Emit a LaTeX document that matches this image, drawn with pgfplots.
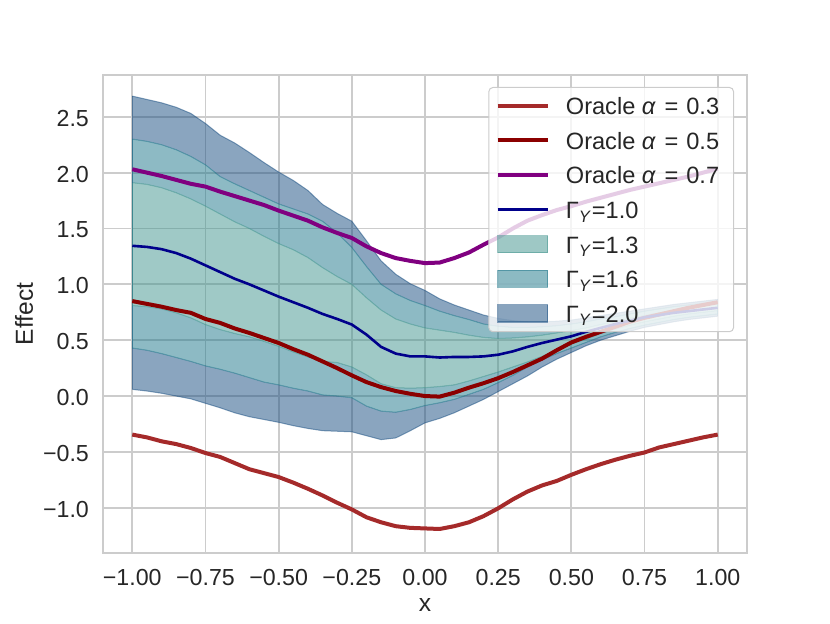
\documentclass[border=0pt]{standalone}
\usepackage{fontspec}
\setmainfont{Liberation Sans}
\usepackage{pgfplots}
\pgfplotsset{compat=1.18}
\usepackage{pgfplotstable}
\usepgfplotslibrary{fillbetween}
\definecolor{gridc}{HTML}{CCCCCC}
\definecolor{cbrown}{HTML}{A52A2A}
\definecolor{cdred}{HTML}{8B0000}
\definecolor{cpurple}{HTML}{800080}
\definecolor{cdblue}{HTML}{00008B}
\definecolor{c13}{HTML}{3F938D}
\definecolor{c16}{HTML}{1B7589}
\definecolor{c20}{HTML}{154B7F}
\definecolor{txt}{HTML}{262626}

\pgfplotstableread{
x      o3      o5     o7     g10    u13   l13    u16   l16    u20   l20
-1.00 -0.345 0.850 2.030 1.345 1.910 0.810 2.300 0.430 2.685 0.060
-0.95 -0.370 0.825 2.000 1.335 1.895 0.800 2.280 0.410 2.655 0.045
-0.90 -0.405 0.800 1.970 1.315 1.865 0.780 2.250 0.380 2.625 0.025
-0.85 -0.430 0.770 1.935 1.280 1.820 0.745 2.205 0.345 2.585 0.000
-0.80 -0.465 0.745 1.900 1.230 1.765 0.700 2.145 0.310 2.530 -0.025
-0.75 -0.510 0.690 1.875 1.170 1.700 0.640 2.070 0.270 2.440 -0.065
-0.70 -0.545 0.655 1.830 1.110 1.630 0.595 1.965 0.240 2.335 -0.105
-0.65 -0.600 0.605 1.790 1.050 1.560 0.560 1.900 0.205 2.265 -0.150
-0.60 -0.655 0.565 1.750 1.000 1.500 0.530 1.840 0.165 2.180 -0.185
-0.55 -0.690 0.520 1.710 0.945 1.430 0.490 1.780 0.125 2.090 -0.210
-0.50 -0.725 0.475 1.660 0.890 1.365 0.445 1.720 0.100 2.005 -0.235
-0.45 -0.775 0.420 1.615 0.840 1.310 0.395 1.675 0.070 1.930 -0.265
-0.40 -0.830 0.370 1.570 0.790 1.240 0.350 1.630 0.045 1.840 -0.290
-0.35 -0.890 0.310 1.510 0.735 1.150 0.310 1.565 0.010 1.715 -0.310
-0.30 -0.955 0.250 1.460 0.690 1.070 0.300 1.460 0.000 1.635 -0.315
-0.25 -1.015 0.185 1.415 0.640 1.000 0.260 1.330 -0.015 1.565 -0.320
-0.20 -1.085 0.125 1.340 0.550 0.880 0.190 1.160 -0.090 1.390 -0.355
-0.15 -1.130 0.080 1.280 0.440 0.770 0.110 1.000 -0.135 1.210 -0.390
-0.10 -1.165 0.045 1.235 0.380 0.690 0.075 0.915 -0.145 1.090 -0.375
-0.05 -1.180 0.020 1.210 0.355 0.645 0.070 0.855 -0.120 1.005 -0.310
0.00 -1.185 0.000 1.190 0.355 0.610 0.075 0.810 -0.085 0.945 -0.240
0.05 -1.190 -0.005 1.195 0.345 0.590 0.085 0.760 -0.060 0.870 -0.200
0.10 -1.165 0.030 1.235 0.350 0.570 0.100 0.720 -0.030 0.815 -0.150
0.15 -1.130 0.075 1.285 0.350 0.545 0.135 0.685 0.015 0.770 -0.090
0.20 -1.075 0.115 1.355 0.355 0.525 0.175 0.645 0.060 0.725 -0.030
0.25 -1.005 0.160 1.420 0.370 0.515 0.215 0.625 0.120 0.695 0.040
0.30 -0.925 0.215 1.500 0.400 0.520 0.260 0.615 0.185 0.675 0.110
0.35 -0.855 0.275 1.570 0.440 0.530 0.305 0.615 0.260 0.665 0.180
0.40 -0.800 0.335 1.620 0.475 0.545 0.355 0.620 0.325 0.665 0.260
0.45 -0.760 0.410 1.665 0.505 0.565 0.410 0.630 0.380 0.670 0.330
0.50 -0.705 0.480 1.700 0.535 0.585 0.465 0.645 0.430 0.680 0.390
0.55 -0.655 0.530 1.740 0.575 0.610 0.510 0.665 0.480 0.700 0.450
0.60 -0.610 0.575 1.775 0.610 0.640 0.560 0.690 0.530 0.720 0.500
0.65 -0.570 0.620 1.810 0.645 0.665 0.600 0.710 0.570 0.740 0.540
0.70 -0.535 0.665 1.845 0.675 0.695 0.635 0.735 0.605 0.760 0.580
0.75 -0.505 0.700 1.875 0.705 0.720 0.665 0.760 0.635 0.780 0.615
0.80 -0.460 0.730 1.905 0.725 0.745 0.690 0.780 0.660 0.800 0.640
0.85 -0.430 0.760 1.935 0.745 0.770 0.715 0.800 0.685 0.820 0.665
0.90 -0.400 0.790 1.965 0.760 0.790 0.735 0.815 0.705 0.835 0.685
0.95 -0.370 0.815 2.000 0.775 0.810 0.750 0.830 0.720 0.850 0.700
1.00 -0.345 0.840 2.035 0.790 0.825 0.765 0.845 0.735 0.865 0.715
}\data

\newcommand{\orc}[1]{\makebox[80.5pt][l]{Oracle \textit{α}\hspace{4.3pt}=\hspace{4pt}#1}}

\begin{document}
\begin{tikzpicture}
\begin{axis}[
  at={(51.5pt,35pt)}, anchor=south west,
  width=322pt, height=239pt, scale only axis,
  xmin=-1.1, xmax=1.1, ymin=-1.405, ymax=2.874,
  set layers,
  axis line style={draw=gridc, line width=1.1pt},
  grid=major, major grid style={draw=gridc, line width=0.9pt},
  major tick length=0pt,
  xtick={-1,-0.75,-0.5,-0.25,0,0.25,0.5,0.75,1},
  xticklabels={−1.00,−0.75,−0.50,−0.25,0.00,0.25,0.50,0.75,1.00},
  ytick={-1,-0.5,0,0.5,1,1.5,2,2.5},
  yticklabels={−1.0,−0.5,0.0,0.5,1.0,1.5,2.0,2.5},
  tick label style={font=\fontsize{11.6}{13}\selectfont, text=txt},
  xticklabel style={inner sep=0pt, anchor=north, yshift=-8pt},
  yticklabel style={inner sep=0pt, anchor=east, xshift=-6.85pt, yshift=-0.8pt},
  xlabel={x}, ylabel={Effect},
  every axis x label/.style={at={([yshift=-26pt]axis description cs:0.5,0)}, anchor=center, font=\fontsize{12.3}{14}\selectfont, text=txt},
  every axis y label/.style={at={([xshift=-39.5pt]axis description cs:0,0.5)}, rotate=90, anchor=center, font=\fontsize{12.3}{14}\selectfont, text=txt},
  legend style={at={(axis description cs:1,1)}, anchor=north east, xshift=-6.5pt, yshift=-6pt,
    draw=gridc, line width=0.5pt, fill=white, fill opacity=0.8, text opacity=1, draw opacity=1,
    rounded corners=2pt, inner xsep=3.3pt, inner ysep=3.2pt, row sep=5.4pt,
    font=\fontsize{11.8}{13}\selectfont, text=txt,
    nodes={inner sep=0pt, text height=10.4pt, text depth=1.5pt, anchor=west},
    /tikz/every odd column/.append style={column sep=8.2pt}},
  legend cell align=left,
  legend image code/.code={\draw[sharp corners, #1] (0pt,0pt) -- (25pt,0pt);},
]
% band edges (named paths)
\addplot[draw=c20, draw opacity=0.5, line width=0.5pt, name path=U20, forget plot] table[x=x,y=u20]{\data};
\addplot[draw=c20, draw opacity=0.5, line width=0.5pt, name path=L20, forget plot] table[x=x,y=l20]{\data};
\addplot[draw=c16, draw opacity=0.5, line width=0.5pt, name path=U16, forget plot] table[x=x,y=u16]{\data};
\addplot[draw=c16, draw opacity=0.5, line width=0.5pt, name path=L16, forget plot] table[x=x,y=l16]{\data};
\addplot[draw=c13, draw opacity=0.5, line width=0.5pt, name path=U13, forget plot] table[x=x,y=u13]{\data};
\addplot[draw=c13, draw opacity=0.5, line width=0.5pt, name path=L13, forget plot] table[x=x,y=l13]{\data};
% vertical end edges of the bands
\addplot[draw=c20, draw opacity=0.5, line width=0.5pt, forget plot] coordinates {(-1,0.060) (-1,2.685)};
\addplot[draw=c16, draw opacity=0.5, line width=0.5pt, forget plot] coordinates {(-1,0.430) (-1,2.300)};
\addplot[draw=c13, draw opacity=0.5, line width=0.5pt, forget plot] coordinates {(-1,0.810) (-1,1.910)};
\addplot[draw=c20, draw opacity=0.5, line width=0.5pt, forget plot] coordinates {(1,0.715) (1,0.865)};
\addplot[draw=c16, draw opacity=0.5, line width=0.5pt, forget plot] coordinates {(1,0.735) (1,0.845)};
\addplot[draw=c13, draw opacity=0.5, line width=0.5pt, forget plot] coordinates {(1,0.765) (1,0.825)};
% band fills (rings)
\addplot[fill=c20, fill opacity=0.5, draw=none, forget plot] fill between[of=U20 and U16];
\addplot[fill=c20, fill opacity=0.5, draw=none, forget plot] fill between[of=L16 and L20];
\addplot[fill=c16, fill opacity=0.5, draw=none, forget plot] fill between[of=U16 and U13];
\addplot[fill=c16, fill opacity=0.5, draw=none, forget plot] fill between[of=L13 and L16];
\addplot[fill=c13, fill opacity=0.5, draw=none, forget plot] fill between[of=U13 and L13];
% lines
\addplot[cbrown, line width=2pt, line join=round] table[x=x,y=o3]{\data};
\addlegendentry{\orc{0.3}}
\addplot[cdred, line width=2pt, line join=round] table[x=x,y=o5]{\data};
\addlegendentry{\orc{0.5}}
\addplot[cpurple, line width=2pt, line join=round] table[x=x,y=o7]{\data};
\addlegendentry{\orc{0.7}}
\addplot[cdblue, line width=1.3pt, line join=round] table[x=x,y=g10]{\data};
\addlegendentry{Γ\textsubscript{\textit{Y}}=1.0}
\addlegendimage{legend image code/.code={\draw[sharp corners, line width=0.6pt, fill=c13, fill opacity=0.5, draw=c13, draw opacity=0.5] (0pt,-4.3pt) rectangle (25pt,4.3pt);}}
\addlegendentry{Γ\textsubscript{\textit{Y}}=1.3}
\addlegendimage{legend image code/.code={\draw[sharp corners, line width=0.6pt, fill=c16, fill opacity=0.5, draw=c16, draw opacity=0.5] (0pt,-4.3pt) rectangle (25pt,4.3pt);}}
\addlegendentry{Γ\textsubscript{\textit{Y}}=1.6}
\addlegendimage{legend image code/.code={\draw[sharp corners, line width=0.6pt, fill=c20, fill opacity=0.5, draw=c20, draw opacity=0.5] (0pt,-4.3pt) rectangle (25pt,4.3pt);}}
\addlegendentry{Γ\textsubscript{\textit{Y}}=2.0}
\end{axis}
\pgfresetboundingbox
\useasboundingbox (0,0) rectangle (415pt,311.5pt);
\end{tikzpicture}
\end{document}
